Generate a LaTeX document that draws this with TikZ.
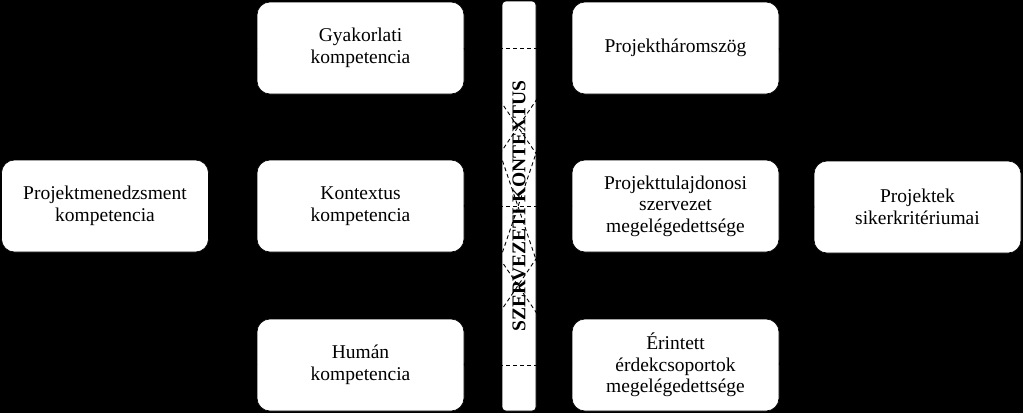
\documentclass[tikz,border=0pt]{standalone}
\usepackage{fontspec}
\setmainfont{Liberation Serif}
\begin{document}
\begin{tikzpicture}[x=1pt,y=-1pt,
  box/.style={draw=black,line width=0.6pt,fill=white,rounded corners=13pt,
    minimum width=207pt,minimum height=92pt,inner sep=0pt,align=center,
    font=\fontsize{19.5}{21.5}\selectfont},
  barbox/.style={draw=black,line width=0.6pt,fill=white,rounded corners=4pt,
    minimum width=34pt,minimum height=410pt,inner sep=0pt},
  link/.style={draw=black,line width=0.9pt},
  cross/.style={draw=black,line width=0.9pt,dash pattern=on 4pt off 3pt}]
\fill[black] (0,0) rectangle (1023,413);
\useasboundingbox (0,0) rectangle (1023,413);
% central bar
\node[barbox] (bar) at (519,206) {};
% boxes
\node[box] (pm) at (105,206) {Projektmenedzsment\\kompetencia};
\node[box] (gy) at (360.5,48) {Gyakorlati\\kompetencia};
\node[box] (ko) at (360.5,206) {Kontextus\\kompetencia};
\node[box] (hu) at (360.5,365) {Humán\\kompetencia};
\node[box] (pt) at (675.5,48) {Projektháromszög};
\node[box] (po) at (675.5,206) {Projekttulajdonosi\\szervezet\\megelégedettsége};
\node[box] (er) at (675.5,365) {Érintett\\érdekcsoportok\\megelégedettsége};
\node[box] (sk) at (917.5,207) {Projektek\\sikerkritériumai};
% connectors (black on black)
\begin{scope}[on background layer/.style={}]
\draw[link] (pm.east) -- (gy.west);
\draw[link] (pm.east) -- (ko.west);
\draw[link] (pm.east) -- (hu.west);
\draw[link] (pt.east) -- (sk.west);
\draw[link] (po.east) -- (sk.west);
\draw[link] (er.east) -- (sk.west);
\end{scope}
% dashed cross connections over the bar
\foreach \a in {gy,ko,hu}{
  \foreach \b in {pt,po,er}{
    \draw[cross] (\a.east) -- (\b.west);
  }
}
% bar label
\node[rotate=90,font=\fontsize{19.5}{21.5}\selectfont\bfseries,inner sep=0pt] (lbl) at (bar.center) {SZERVEZETI KONTEXTUS};
\end{tikzpicture}
\end{document}
